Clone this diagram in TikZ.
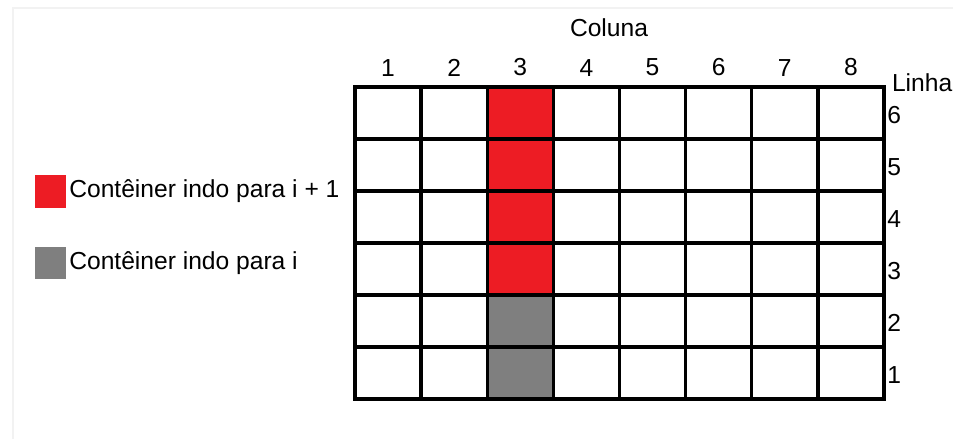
\documentclass[tikz,border=0pt]{standalone}
\usepackage{fontspec}
\setmainfont{Liberation Sans}
\usepackage{xcolor}
\usetikzlibrary{positioning}

\definecolor{upred}{HTML}{ED1C24}
\definecolor{downgray}{HTML}{7F7F7F}

\begin{document}
\begin{tikzpicture}[
        x=0.03cm, y=-0.03cm,
        every node/.style={font=\fontsize{21}{25}\selectfont, inner sep=0pt, outer sep=0pt},
        cell/.style={rectangle, draw=black, line width=2.8pt, fill=white, minimum width=1.98375cm, minimum height=1.56cm},
        upcell/.style={cell, fill=upred},
        downcell/.style={cell, fill=downgray},
        key/.style={rectangle, minimum width=0.93cm, minimum height=0.97cm},
        frame/.style={draw=gray!10, line width=1.5pt}
    ]
        \useasboundingbox (0,0) rectangle (953,439);
        \draw[frame] (13,439) -- (13,8) -- (953,8);

        % grid of containers
        \foreach \c in {1,...,8}
            \foreach \r in {1,...,6}{
                \ifnum\c=3 \ifnum\r>2 \def\st{upcell}\else\def\st{downcell}\fi \else\def\st{cell}\fi
                \node[\st] (c-\c-\r) at ({355+66.125*(\c-0.5)}, {399-52*(\r-0.5)}) {};
            }

        % column and row numbers
        \foreach \c in {1,...,8}
            \node[above=0.33cm of c-\c-6] (col-\c) {\c};
        \foreach \r in {1,...,6}
            \node[right=0.1cm of c-8-\r, yshift=-0.06cm] (row-\r) {\r};
        \node (coluna) at (609,28) {Coluna};
        \node[anchor=west] (linha) at (892,83) {Linha};

        % legend
        \node[key, fill=upred] (key-up) at (50.5,191.5) {};
        \node[right=0.1cm of key-up] (txt-up) {Contêiner indo para i + 1};
        \node[key, fill=downgray] (key-down) at (50.5,263) {};
        \node[right=0.1cm of key-down] (txt-down) {Contêiner indo para i};
    \end{tikzpicture}
\end{document}
